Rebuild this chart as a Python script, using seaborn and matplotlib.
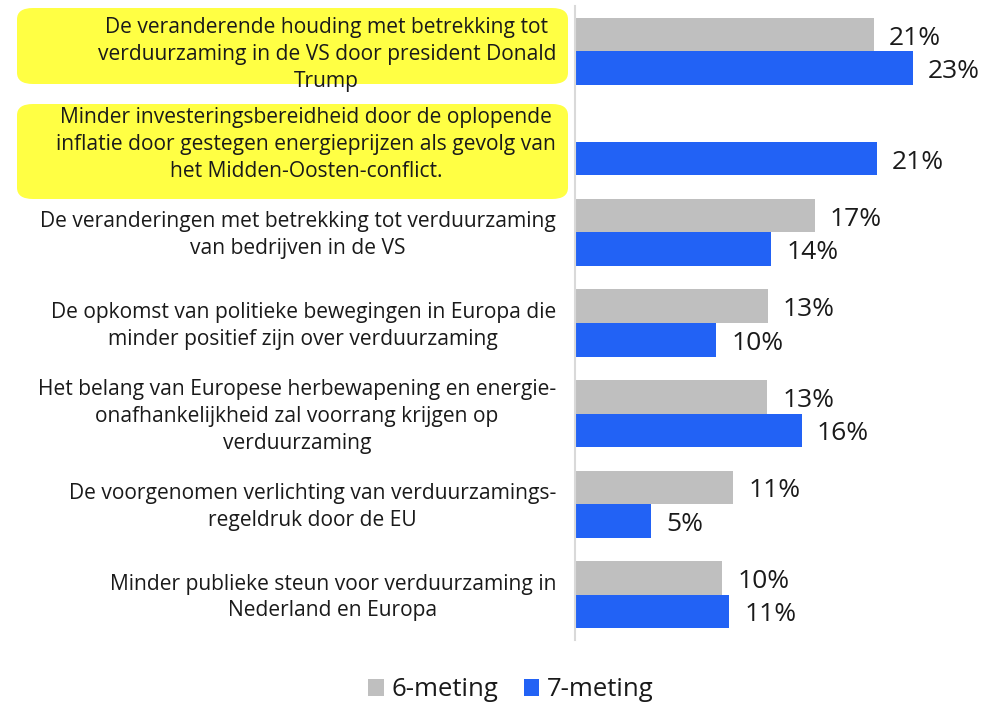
import matplotlib
matplotlib.use("Agg")
import matplotlib.pyplot as plt
from matplotlib.patches import FancyBboxPatch, Patch
from matplotlib.transforms import ScaledTranslation
import seaborn as sns
import pandas as pd
import numpy as np

categories = [
    "De veranderende houding met betrekking tot\nverduurzaming in de VS door president Donald\nTrump",
    "Minder investeringsbereidheid door de oplopende\ninflatie door gestegen energieprijzen als gevolg van\nhet Midden-Oosten-conflict.",
    "De veranderingen met betrekking tot verduurzaming\nvan bedrijven in de VS",
    "De opkomst van politieke bewegingen in Europa die\nminder positief zijn over verduurzaming",
    "Het belang van Europese herbewapening en energie-\nonafhankelijkheid zal voorrang krijgen op\nverduurzaming",
    "De voorgenomen verlichting van verduurzamings-\nregeldruk door de EU",
    "Minder publieke steun voor verduurzaming in\nNederland en Europa",
]
series_names = ["6-meting", "7-meting"]
meting6 = [20.7, np.nan, 16.6, 13.35, 13.3, 10.95, 10.2]
meting7 = [23.4, 20.9, 13.6, 9.8, 15.7, 5.25, 10.7]

colors = {"6-meting": "#BFBFBF", "7-meting": "#2262F5"}

df = pd.DataFrame({
    "categorie": categories * 2,
    "meting": [series_names[0]] * len(categories) + [series_names[1]] * len(categories),
    "waarde": meting6 + meting7,
})

sns.set_theme(style="white")
plt.rcParams["font.family"] = ["Open Sans", "DejaVu Sans"]
TXT = "#1a1a1a"

W, H = 999, 704
fig = plt.figure(figsize=(W / 100, H / 100), dpi=100)
ax_left, ax_right, ax_top, ax_bot = 575, 965, 6, 640
ax = fig.add_axes([ax_left / W, 1 - ax_bot / H, (ax_right - ax_left) / W, (ax_bot - ax_top) / H])
ax.set_zorder(2)

# yellow highlight boxes (figure pixel coords)
boxes = [(17, 8, 568, 84), (17, 104, 568, 199)]
for (x0, y0, x1, y1) in boxes:
    fig.patches.append(FancyBboxPatch(
        (x0 / W, 1 - y1 / H), (x1 - x0) / W, (y1 - y0) / H,
        boxstyle="round,pad=0,rounding_size=0.016", transform=fig.transFigure,
        facecolor="#FFFF44", edgecolor="none", zorder=1))

sns.barplot(data=df, y="categorie", x="waarde", hue="meting", order=categories,
            hue_order=series_names, palette=colors, orient="h", width=0.74,
            linewidth=0, saturation=1, ax=ax, legend=False)

px_per_pct = 14.43
ax.set_xlim(0, (ax_right - ax_left) / px_per_pct)
ax.set_ylim(6.5, -0.5)

for c in ax.containers:
    anns = ax.bar_label(c, fmt=lambda v: "" if np.isnan(v) else f"{v:.0f}%", padding=11,
                        fontsize=19, color=TXT)
    for a in anns:
        a.xyann = (11, -2.5)

ax.set_xlabel("")
ax.set_ylabel("")
ax.set_xticks([])
ax.set_yticks(range(len(categories)))
ax.set_yticklabels([])
ax.tick_params(axis="y", length=0)

# category labels, right-aligned block, centered lines
lab_tr = ax.get_yaxis_transform() + ScaledTranslation(-19 / 100, -2.8 / 100, fig.dpi_scale_trans)
for i, cat in enumerate(categories):
    ax.text(0, i, cat, transform=lab_tr, ha="right", va="center", multialignment="center",
            fontsize=15.1, color=TXT, linespacing=1.37, clip_on=False)

for s in ["top", "right", "bottom"]:
    ax.spines[s].set_visible(False)
ax.spines["left"].set_color("#D9D9D9")
ax.spines["left"].set_linewidth(1.5)
ax.patch.set_alpha(0)

handles = [Patch(facecolor=colors[n], edgecolor="none", label=n) for n in series_names]
fig.legend(handles=handles, loc="center", bbox_to_anchor=(511 / W, 1 - 690 / H), ncol=2,
           frameon=False, fontsize=18.5, handlelength=0.6, handleheight=0.6,
           handletextpad=0.3, columnspacing=1.0, labelcolor=TXT)

fig.savefig("out.png", dpi=100)
